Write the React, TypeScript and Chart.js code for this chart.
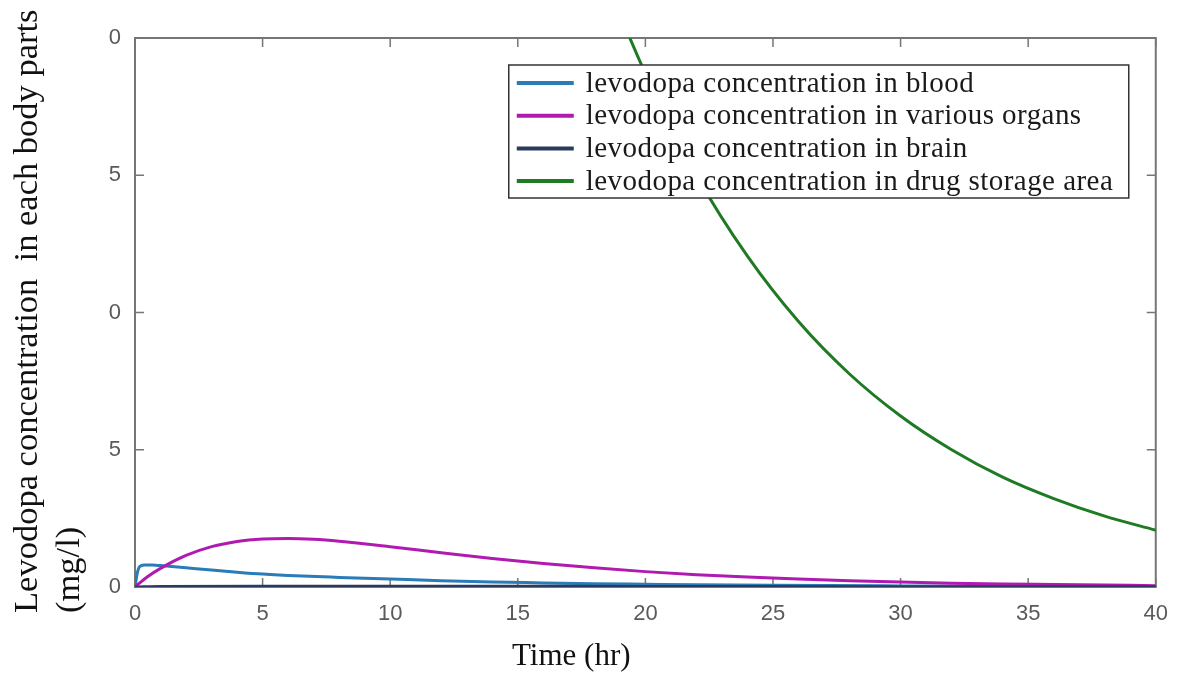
import React, { useEffect, useRef } from "react";
import { Chart, registerables } from "chart.js";

Chart.register(...registerables);

// ---- data ----
const bloodTime = [0, 0.1, 0.2, 0.4, 0.7, 1, 2, 3, 4, 5, 6, 8, 10, 12, 14, 16, 18, 20, 22, 25, 30, 35, 40];
const bloodConc = [0, 0.55, 0.76, 0.8, 0.8, 0.78, 0.7, 0.62, 0.54, 0.47, 0.42, 0.35, 0.29, 0.23, 0.18, 0.15, 0.12, 0.1, 0.08, 0.06, 0.04, 0.025, 0.015];

const organsTime = [0, 0.5, 1, 2, 3, 4, 5, 6, 7, 8, 10, 12, 14, 16, 18, 20, 22, 24, 26, 28, 30, 32, 34, 36, 38, 40];
const organsConc = [0, 0.38, 0.68, 1.15, 1.47, 1.66, 1.75, 1.77, 1.74, 1.67, 1.47, 1.25, 1.04, 0.86, 0.7, 0.56, 0.45, 0.36, 0.29, 0.23, 0.18, 0.14, 0.11, 0.09, 0.07, 0.05];

const brainTime = [0, 1, 5, 10, 20, 30, 40];
const brainConc = [0, 0.02, 0.03, 0.03, 0.02, 0.01, 0.01];

const storageTime = [0, 2, 4, 6, 8, 10, 12, 14, 16, 18, 20, 22, 24, 26, 28, 30, 32, 34, 36, 38, 40];
const storageConc = [170, 136, 109, 87, 70, 56, 45, 36, 29, 23.3, 18.7, 15.0, 12.05, 9.67, 7.76, 6.23, 5.0, 4.0, 3.22, 2.58, 2.07];

const seriesLabels = [
  "levodopa concentration in blood",
  "levodopa concentration in various organs",
  "levodopa concentration in brain",
  "levodopa concentration in drug storage area",
];
const seriesColors = ["#2a7cb8", "#b01ab0", "#2c3a5e", "#1f7a24"];

const xTickValues = [0, 5, 10, 15, 20, 25, 30, 35, 40];
const xTickLabels = ["0", "5", "10", "15", "20", "25", "30", "35", "40"];
const yTickValues = [0, 5, 10, 15, 20];
const yTickLabels = ["0", "5", "0", "5", "0"];

const xTitle = "Time (hr)";
const yTitleLines = ["Levodopa concentration  in each body parts", "(mg/l)"];

const zip = (t: number[], v: number[]) => t.map((x, i) => ({ x, y: v[i] }));

const boxPlugin = {
  id: "box",
  beforeDatasetsDraw(chart: any) {
    const { ctx, chartArea, scales } = chart;
    const { left, right, top, bottom } = chartArea;
    const xs = scales.x;
    const ys = scales.y;
    ctx.save();
    ctx.strokeStyle = "#767676";
    ctx.lineWidth = 2;
    ctx.strokeRect(left, top, right - left, bottom - top);
    ctx.lineWidth = 1.5;
    ctx.beginPath();
    xTickValues.forEach((v) => {
      const px = xs.getPixelForValue(v);
      ctx.moveTo(px, bottom);
      ctx.lineTo(px, bottom - 9);
      ctx.moveTo(px, top);
      ctx.lineTo(px, top + 9);
    });
    yTickValues.forEach((v) => {
      const py = ys.getPixelForValue(v);
      ctx.moveTo(left, py);
      ctx.lineTo(left + 9, py);
      ctx.moveTo(right, py);
      ctx.lineTo(right - 9, py);
    });
    ctx.stroke();
    ctx.restore();
  },
};

const decorPlugin = {
  id: "decor",
  afterDraw(chart: any) {
    const { ctx, chartArea } = chart;
    const { right, top } = chartArea;
    ctx.save();

    // legend
    const legLeft = right - 647;
    const legTop = top + 27;
    const legW = 620;
    const legH = 133;
    ctx.fillStyle = "#ffffff";
    ctx.fillRect(legLeft, legTop, legW, legH);
    ctx.strokeStyle = "#333333";
    ctx.lineWidth = 1.5;
    ctx.strokeRect(legLeft, legTop, legW, legH);
    ctx.font = "29px 'Liberation Serif', 'Times New Roman', serif";
    (ctx as any).letterSpacing = "0.45px";
    ctx.textBaseline = "middle";
    ctx.textAlign = "left";
    seriesLabels.forEach((lab, i) => {
      const cy = legTop + 18 + i * 32.7;
      ctx.strokeStyle = seriesColors[i];
      ctx.lineWidth = 4;
      ctx.beginPath();
      ctx.moveTo(legLeft + 8, cy);
      ctx.lineTo(legLeft + 65, cy);
      ctx.stroke();
      ctx.fillStyle = "#1a1a1a";
      ctx.fillText(lab, legLeft + 77, cy + 1);
    });
    (ctx as any).letterSpacing = "0px";

    // x title
    ctx.fillStyle = "#111111";
    ctx.textBaseline = "alphabetic";
    ctx.font = "31px 'Liberation Serif', 'Times New Roman', serif";
    ctx.fillText(xTitle, 512, 665);

    // y title (two lines, rotated)
    ctx.font = "34.5px 'Liberation Serif', 'Times New Roman', serif";
    const lineX = [37, 79];
    yTitleLines.forEach((line, i) => {
      ctx.save();
      ctx.translate(lineX[i], 613);
      ctx.rotate(-Math.PI / 2);
      ctx.fillText(line, 0, 0);
      ctx.restore();
    });

    ctx.restore();
  },
};

export default function App() {
  const ref = useRef<HTMLCanvasElement | null>(null);

  useEffect(() => {
    if (!ref.current) return;
    const tickFont = { family: "'Liberation Sans', Arial, sans-serif", size: 22 };
    const chart = new Chart(ref.current, {
      type: "line",
      data: {
        datasets: [
          { label: seriesLabels[0], data: zip(bloodTime, bloodConc), borderColor: seriesColors[0], order: 4 },
          { label: seriesLabels[1], data: zip(organsTime, organsConc), borderColor: seriesColors[1], order: 3 },
          { label: seriesLabels[2], data: zip(brainTime, brainConc), borderColor: seriesColors[2], order: 2 },
          { label: seriesLabels[3], data: zip(storageTime, storageConc), borderColor: seriesColors[3], order: 1 },
        ].map((d) => ({
          ...d,
          borderWidth: 3,
          pointRadius: 0,
          fill: false,
          cubicInterpolationMode: "monotone" as const,
        })),
      },
      options: {
        responsive: false,
        animation: false,
        layout: { padding: { left: 0, right: 22, top: 38, bottom: 0 } },
        plugins: { legend: { display: false }, title: { display: false }, tooltip: { enabled: false } },
        scales: {
          x: {
            type: "linear",
            min: 0,
            max: 40,
            grid: { display: false, drawTicks: false },
            border: { display: false },
            afterBuildTicks: (s: any) => {
              s.ticks = xTickValues.map((v) => ({ value: v }));
            },
            afterFit: (s: any) => {
              s.height = 90;
            },
            ticks: {
              padding: 14,
              color: "#5a5a5a",
              font: tickFont,
              maxRotation: 0,
              autoSkip: false,
              callback: (v: any) => xTickLabels[xTickValues.indexOf(Number(v))] ?? "",
            },
          },
          y: {
            type: "linear",
            min: 0,
            max: 20,
            grid: { display: false, drawTicks: false },
            border: { display: false },
            afterBuildTicks: (s: any) => {
              s.ticks = yTickValues.map((v) => ({ value: v }));
            },
            afterFit: (s: any) => {
              s.width = 135;
            },
            ticks: {
              padding: 14,
              color: "#5a5a5a",
              font: tickFont,
              autoSkip: false,
              callback: (v: any) => yTickLabels[yTickValues.indexOf(Number(v))] ?? "",
            },
          },
        },
      },
      plugins: [boxPlugin, decorPlugin],
    });
    return () => chart.destroy();
  }, []);

  return (
    <div style={{ position: "absolute", left: 0, top: 0, width: 1182, height: 677, background: "#ffffff" }}>
      <canvas ref={ref} width={1182} height={677} />
    </div>
  );
}
